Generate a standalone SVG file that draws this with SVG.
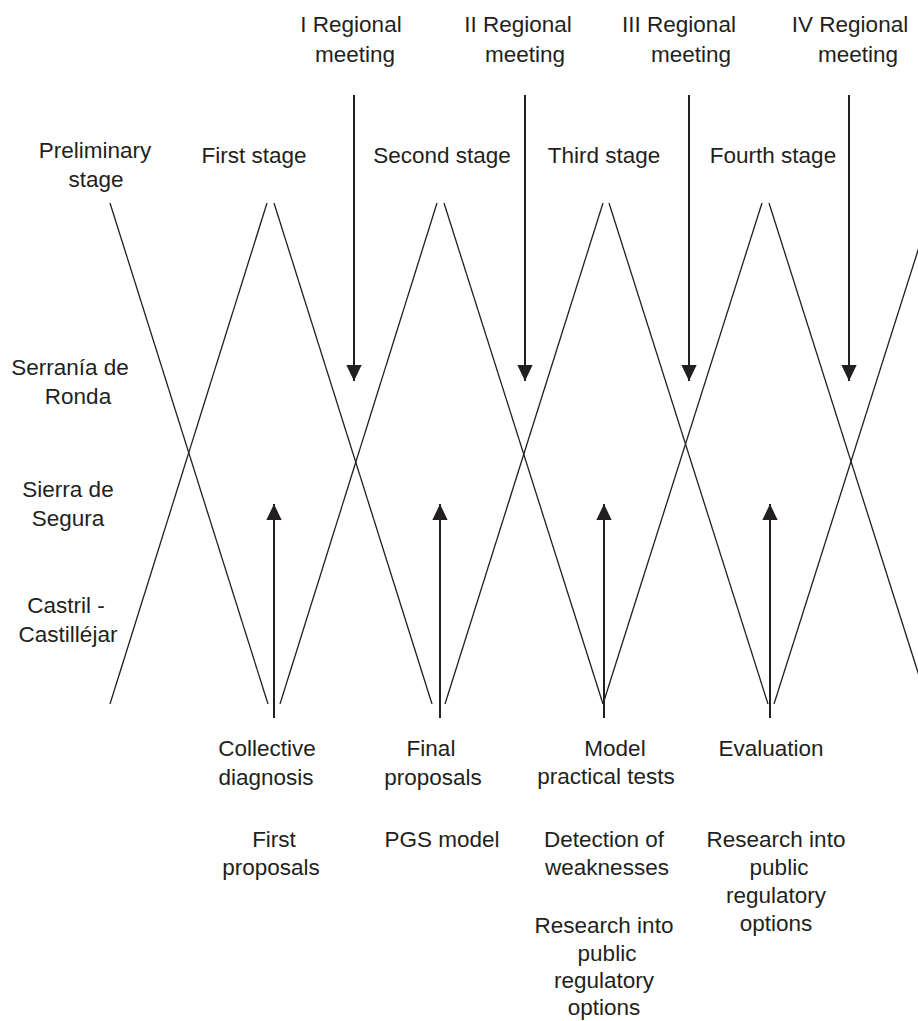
<svg xmlns="http://www.w3.org/2000/svg" width="918" height="1021" viewBox="0 0 918 1021">
<style>
text{font-family:"Liberation Sans",Arial,sans-serif;font-size:22.5px;fill:#231f20;text-anchor:middle}
.d{stroke:#231f20;stroke-width:1.3;fill:none}
.v{stroke:#231f20;stroke-width:2;fill:none}
</style>
<defs>
<marker id="ah" markerUnits="userSpaceOnUse" markerWidth="16" markerHeight="16" viewBox="0 0 14 14" refX="14" refY="7" orient="auto">
<path d="M0,0.3 L14,7 L0,13.7 Z" fill="#231f20"/>
</marker>
</defs>
<rect width="918" height="1021" fill="#fff"/>
<g id="connectors">
<line class="d" x1="110" y1="203" x2="268" y2="704"/>
<line class="d" x1="110" y1="704" x2="267" y2="203"/>
<line class="d" x1="274" y1="203" x2="432" y2="704"/>
<line class="d" x1="280" y1="704" x2="437" y2="203"/>
<line class="d" x1="444" y1="203" x2="603" y2="704"/>
<line class="d" x1="445" y1="704" x2="603" y2="203"/>
<line class="d" x1="609" y1="203" x2="768" y2="704"/>
<line class="d" x1="603" y1="704" x2="762" y2="203"/>
<line class="d" x1="769" y1="203" x2="928" y2="704"/>
<line class="d" x1="774" y1="704" x2="933" y2="203"/>
<line class="v" x1="354" y1="95" x2="354" y2="381" marker-end="url(#ah)"/>
<line class="v" x1="525" y1="95" x2="525" y2="381" marker-end="url(#ah)"/>
<line class="v" x1="689" y1="95" x2="689" y2="381" marker-end="url(#ah)"/>
<line class="v" x1="849" y1="95" x2="849" y2="381" marker-end="url(#ah)"/>
<line class="v" x1="274" y1="718" x2="274" y2="504" marker-end="url(#ah)"/>
<line class="v" x1="440" y1="718" x2="440" y2="504" marker-end="url(#ah)"/>
<line class="v" x1="604" y1="718" x2="604" y2="504" marker-end="url(#ah)"/>
<line class="v" x1="770" y1="718" x2="770" y2="504" marker-end="url(#ah)"/>
</g>
<g id="meeting1"><text x="351" y="32">I Regional</text><text x="355" y="62">meeting</text></g>
<g id="meeting2"><text x="518" y="32">II Regional</text><text x="525" y="62">meeting</text></g>
<g id="meeting3"><text x="679" y="32">III Regional</text><text x="691" y="62">meeting</text></g>
<g id="meeting4"><text x="850" y="32">IV Regional</text><text x="858" y="62">meeting</text></g>
<g id="stage0"><text x="95" y="158">Preliminary</text><text x="96" y="187">stage</text></g>
<g id="stage1"><text x="254" y="163">First stage</text></g>
<g id="stage2"><text x="442" y="163">Second stage</text></g>
<g id="stage3"><text x="604" y="163">Third stage</text></g>
<g id="stage4"><text x="773" y="163">Fourth stage</text></g>
<g id="region1"><text x="70" y="375">Serranía de</text><text x="78" y="404">Ronda</text></g>
<g id="region2"><text x="68" y="497">Sierra de</text><text x="68" y="526">Segura</text></g>
<g id="region3"><text x="66" y="613">Castril -</text><text x="68" y="642">Castilléjar</text></g>
<g id="out1"><text x="267" y="756">Collective</text><text x="266" y="785">diagnosis</text><text x="274" y="847">First</text><text x="271" y="875">proposals</text></g>
<g id="out2"><text x="431" y="756">Final</text><text x="433" y="785">proposals</text><text x="442" y="847">PGS model</text></g>
<g id="out3"><text x="615" y="756">Model</text><text x="606" y="784">practical tests</text><text x="604" y="847">Detection of</text><text x="607" y="875">weaknesses</text><text x="604" y="933">Research into</text><text x="607" y="961">public</text><text x="604" y="988">regulatory</text><text x="604" y="1015">options</text></g>
<g id="out4"><text x="771" y="756">Evaluation</text><text x="776" y="847">Research into</text><text x="779" y="875">public</text><text x="776" y="903">regulatory</text><text x="776" y="931">options</text></g>
</svg>
